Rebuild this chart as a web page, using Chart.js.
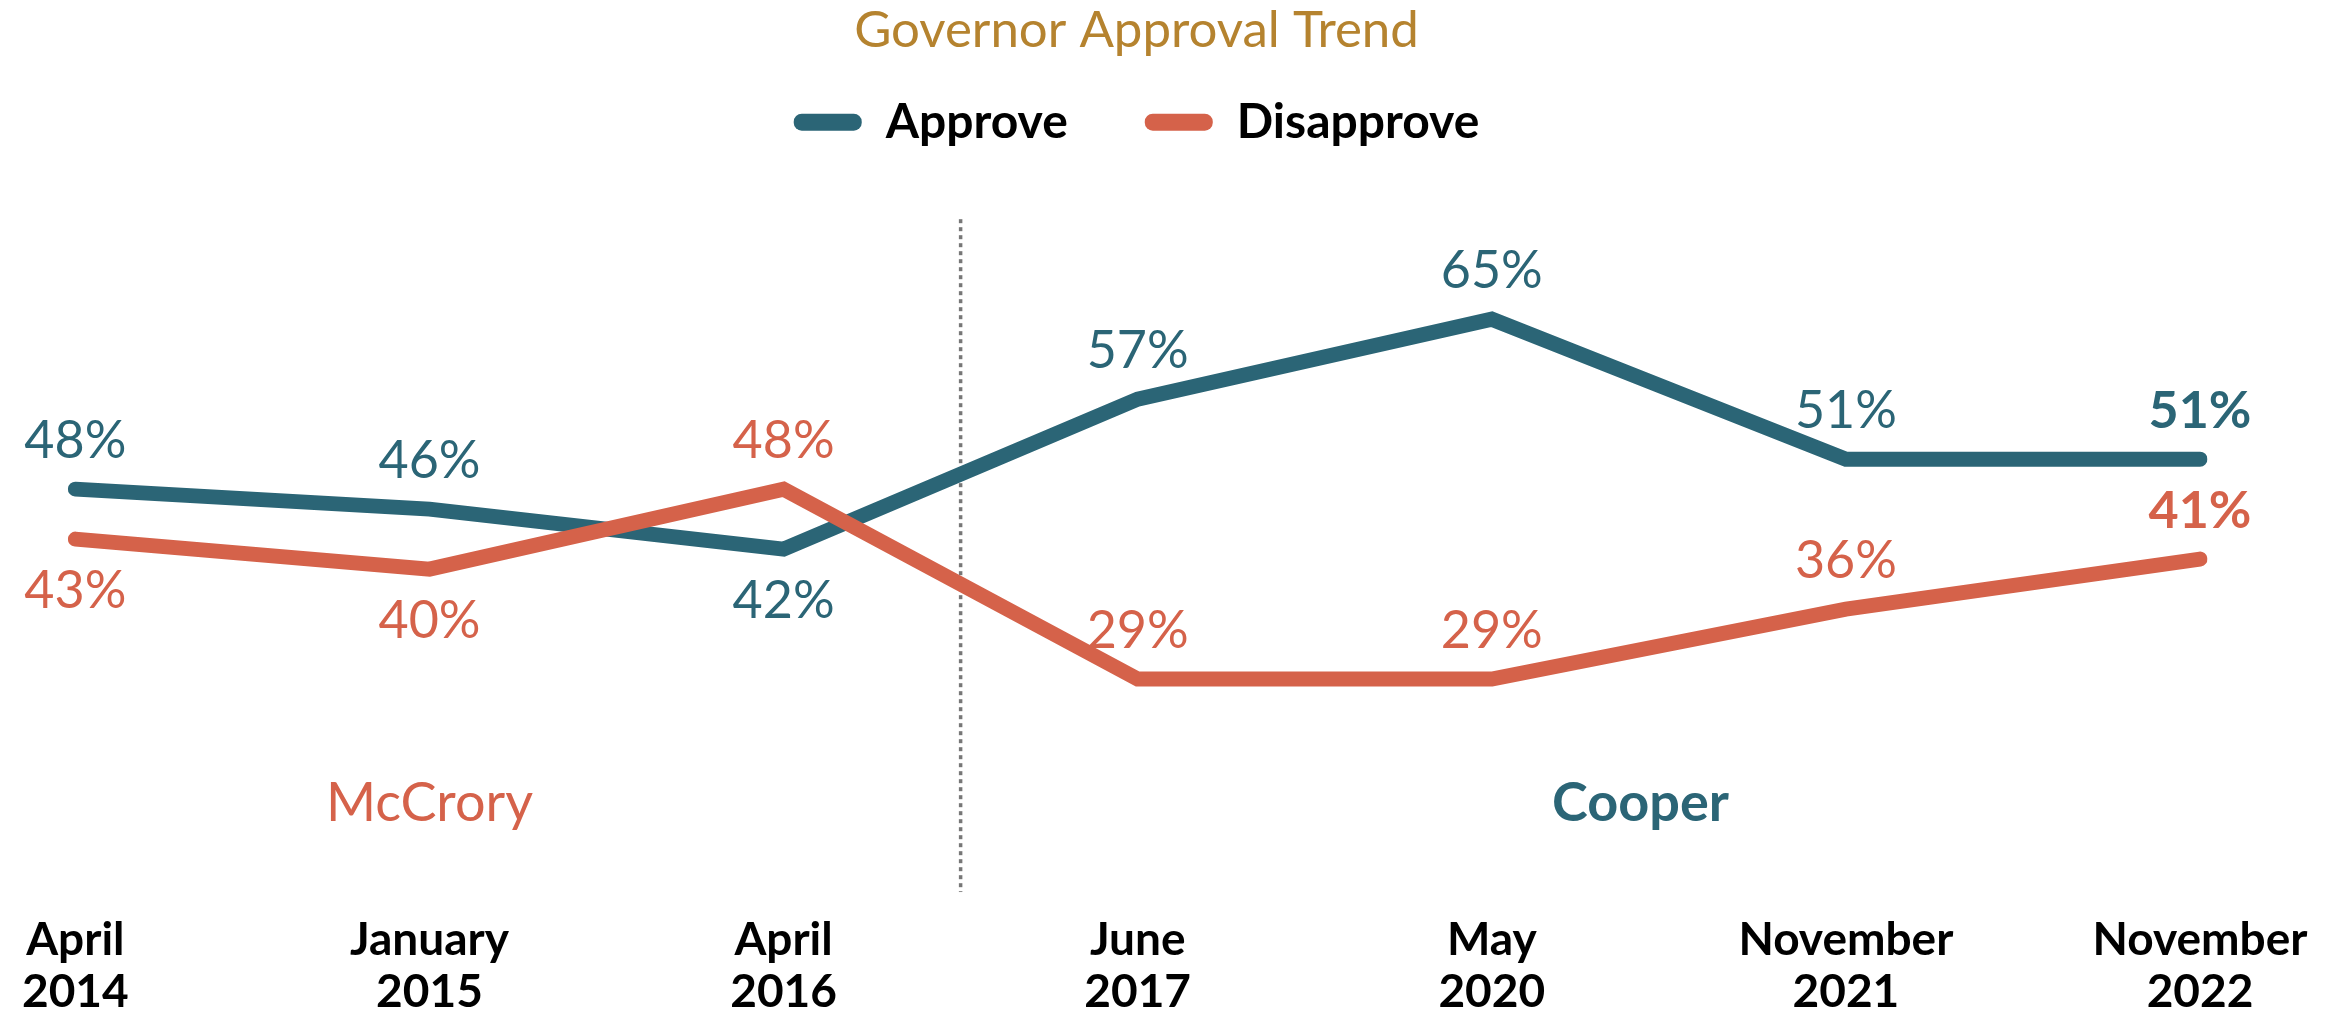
<!DOCTYPE html>
<html>
<head>
<meta charset="utf-8">
<title>Governor Approval Trend</title>
<script src="https://cdn.jsdelivr.net/npm/chart.js@4.4.1/dist/chart.umd.min.js"></script>
<style>
  html, body { margin: 0; padding: 0; background: #ffffff; }
  canvas { display: block; }
</style>
</head>
<body>
<canvas id="approvalChart" width="2339" height="1020"></canvas>
<script>
// Data
var periods = [["April", "2014"], ["January", "2015"], ["April", "2016"], ["June", "2017"], ["May", "2020"], ["November", "2021"], ["November", "2022"]];
var approve = [48, 46, 42, 57, 65, 51, 51];
var disapprove = [43, 40, 48, 29, 29, 36, 41];

// where each value label sits relative to its point
var approveLabelPos = ["above", "above", "below", "above", "above", "above", "above"];
var disapproveLabelPos = ["below", "below", "above", "above", "above", "above", "above"];

var tealColor = "#2B6576";
var orangeColor = "#D5624A";
var FONT = "Lato, 'Open Sans', sans-serif";

// governor names placed in data coordinates
var governors = [
    { name: "McCrory", x: 1, y: 16.5, color: orangeColor, weight: "normal" },
    { name: "Cooper", x: 4.42, y: 16.5, color: tealColor, weight: "bold" }
];
var dividerAt = 2.5;   // between April 2016 and June 2017
var dividerTop = 75;

var valueLabels = {
    id: "valueLabels",
    afterDatasetsDraw: function (chart) {
        var ctx = chart.ctx;
        ctx.save();
        ctx.textAlign = "center";
        ctx.textBaseline = "middle";
        chart.data.datasets.forEach(function (ds, di) {
            var meta = chart.getDatasetMeta(di);
            meta.data.forEach(function (pt, i) {
                var last = i === ds.data.length - 1;
                ctx.font = (last ? "bold " : "") + "52px " + FONT;
                ctx.fillStyle = ds.borderColor;
                var dy = ds.labelPos[i] === "above" ? -48 : 52;
                ctx.fillText(ds.data[i] + "%", pt.x, pt.y + dy);
            });
        });
        ctx.restore();
    }
};

var extras = {
    id: "extras",
    beforeDatasetsDraw: function (chart) {
        var ctx = chart.ctx, x = chart.scales.x, y = chart.scales.y;
        var dx = x.getPixelForValue(dividerAt);
        ctx.save();
        ctx.strokeStyle = "#777777";
        ctx.lineWidth = 3.5;
        ctx.setLineDash([4, 4]);
        ctx.beginPath();
        ctx.moveTo(dx, y.getPixelForValue(dividerTop));
        ctx.lineTo(dx, chart.chartArea.bottom);
        ctx.stroke();
        ctx.restore();

        ctx.save();
        ctx.textAlign = "center";
        ctx.textBaseline = "middle";
        governors.forEach(function (g) {
            ctx.font = g.weight + " 54px " + FONT;
            ctx.fillStyle = g.color;
            ctx.fillText(g.name, x.getPixelForValue(g.x), y.getPixelForValue(g.y));
        });
        ctx.restore();
    }
};

document.addEventListener("DOMContentLoaded", function () {
    var myContext = document.getElementById("approvalChart").getContext("2d");

    new Chart(myContext, {
        type: "line",
        data: {
            labels: periods,
            datasets: [{
                label: "Approve",
                data: approve,
                labelPos: approveLabelPos,
                borderColor: tealColor,
                backgroundColor: tealColor,
                order: 1
            }, {
                label: "Disapprove",
                data: disapprove,
                labelPos: disapproveLabelPos,
                borderColor: orangeColor,
                backgroundColor: orangeColor,
                order: 0
            }]
        },
        options: {
            responsive: false,
            animation: false,
            layout: { autoPadding: false, padding: { left: 73, right: 139, top: 0, bottom: -20 } },
            elements: {
                line: { borderWidth: 15, tension: 0, borderCapStyle: "round", borderJoinStyle: "miter" },
                point: { radius: 0, hoverRadius: 0 }
            },
            plugins: {
                tooltip: { enabled: false },
                title: {
                    display: true,
                    text: "Governor Approval Trend",
                    color: "#B5832F",
                    font: { family: FONT, size: 51, weight: "normal" },
                    // legend sits inside the title's line box so that its item gap can be wide
                    padding: { top: 0, bottom: -40 }
                },
                legend: {
                    display: true,
                    position: "top",
                    labels: {
                        color: "#000000",
                        font: { family: FONT, size: 48, weight: "bold" },
                        boxWidth: 68,
                        boxHeight: 17,
                        useBorderRadius: true,
                        borderRadius: 8,
                        padding: 77,
                        sort: function (a, b) { return a.datasetIndex - b.datasetIndex; },
                        generateLabels: function (chart) {
                            var items = Chart.defaults.plugins.legend.labels.generateLabels(chart);
                            items.forEach(function (it) { it.lineWidth = 0; });
                            return items;
                        }
                    }
                }
            },
            scales: {
                x: {
                    offset: false,
                    grid: { display: false, drawTicks: false },
                    border: { display: false },
                    ticks: {
                        color: "#000000",
                        padding: 22,
                        maxRotation: 0,
                        autoSkip: false,
                        font: { family: FONT, size: 46, weight: "bold", lineHeight: 1.13 }
                    }
                },
                y: {
                    display: false,
                    min: 7.7,
                    max: 81.3
                }
            }
        },
        plugins: [extras, valueLabels]
    });
});
</script>
</body>
</html>
